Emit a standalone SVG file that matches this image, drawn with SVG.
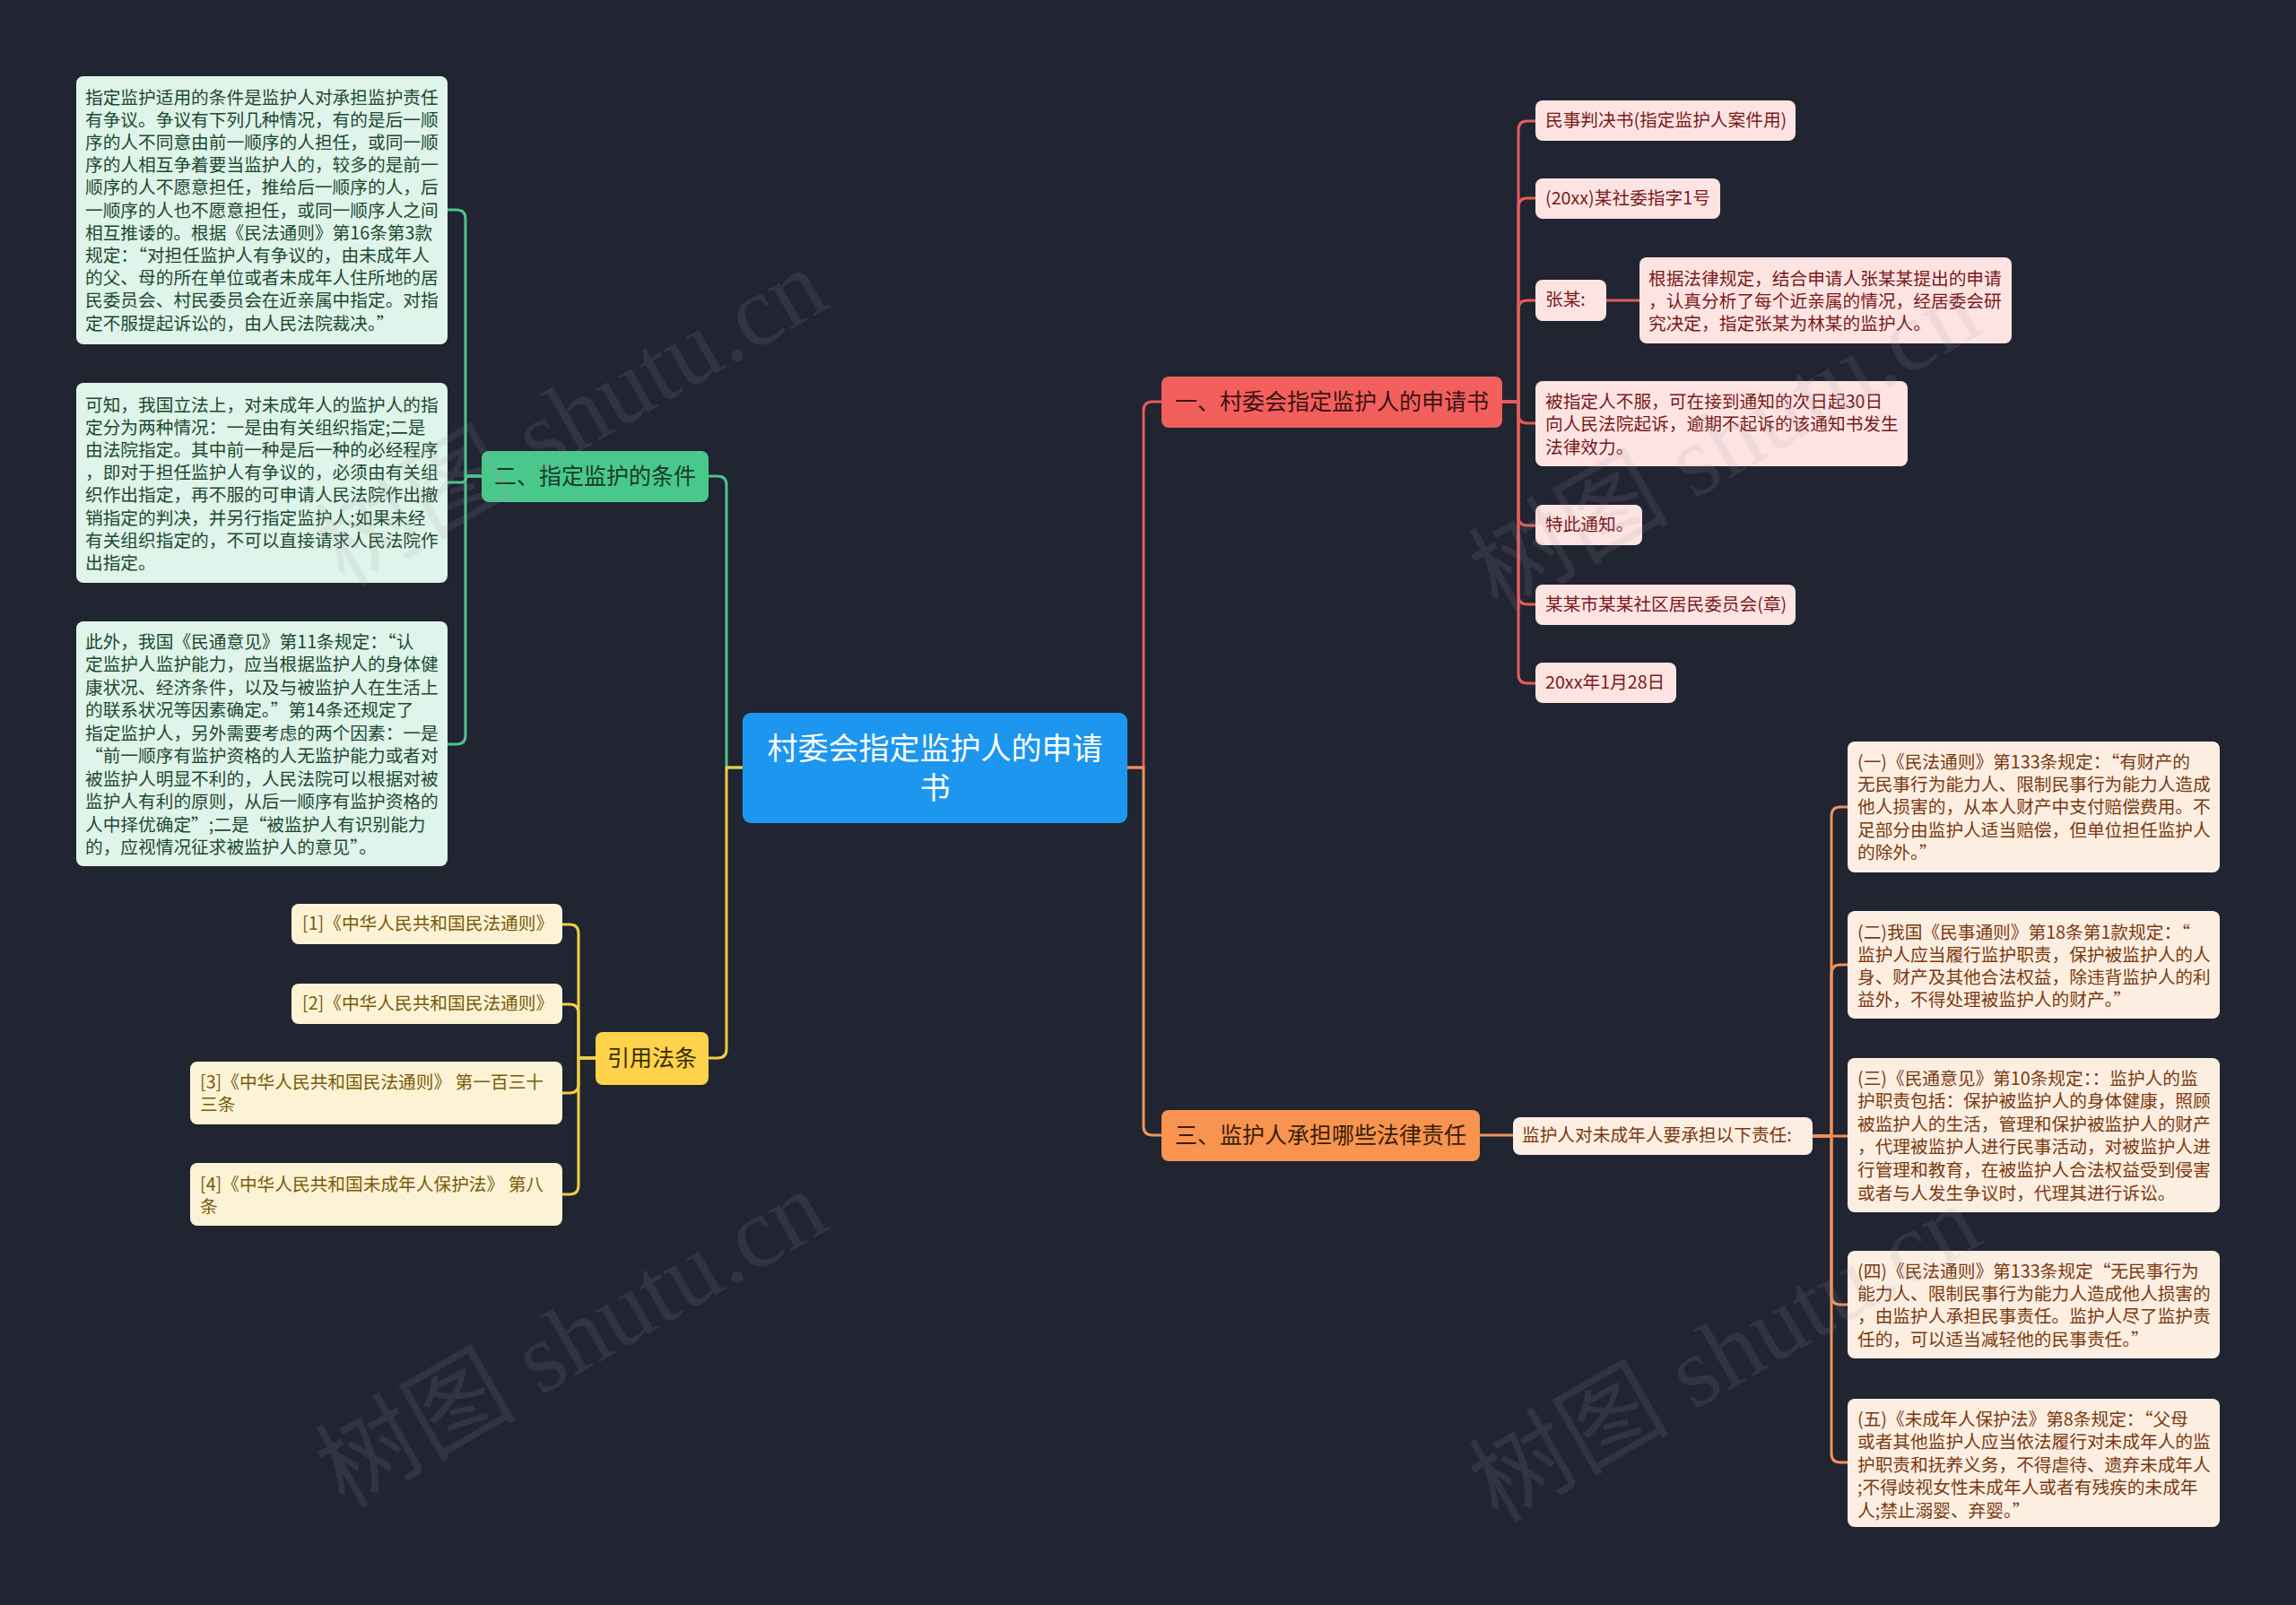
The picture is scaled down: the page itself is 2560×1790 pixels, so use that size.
<svg xmlns="http://www.w3.org/2000/svg" width="2560" height="1790" viewBox="0 0 2560 1790">
<style>
text{font-family:"Noto Sans CJK SC","Noto Sans",sans-serif;}
.c{fill:none;stroke-width:3;stroke-linecap:round;stroke-linejoin:round}
.cr{stroke:#e45d5d}.co{stroke:#f0925a}.cg{stroke:#4cc48c}.cy{stroke:#f3cd45}
.lt{font-size:19.7px;dominant-baseline:central;transform:translateY(-2.5px)}
.bt{font-size:25px;dominant-baseline:central;transform:translateY(-3px)}
.ct{font-size:34px;dominant-baseline:central;fill:#ffffff;transform:translateY(-3px)}
.gl{fill:#dff4ea}.glt{fill:#1c4a31}
.yl{fill:#fcf3d6}.ylt{fill:#7a5a08}
.rl{fill:#fde4e3}.rlt{fill:#7a1a1a}
.ol{fill:#fdeee2}.olt{fill:#7a3a0f}
.wm{font-family:"Liberation Serif","Noto Sans CJK SC",serif;font-size:112px;fill:#9a9aa0;fill-opacity:0.14}
</style>
<rect x="0" y="0" width="2560" height="1790" fill="#212431"/>

<g id="connectors">
<path class="c cr" d="M1257 856 H1275 V458 Q1275 448 1285 448 H1295"/>
<path class="c co" d="M1257 856 H1275 V1256 Q1275 1266 1285 1266 H1295"/>
<path class="c cg" d="M828 856 H810 V541 Q810 531 800 531 H790"/>
<path class="c cy" d="M828 856 H810 V1170 Q810 1180 800 1180 H790"/>
<path class="c cg" d="M537 531 H519 V244 Q519 234 509 234 H499"/>
<path class="c cg" d="M537 531 H522 C519 531 519 538 516 538 H499"/>
<path class="c cg" d="M537 531 H519 V820 Q519 830 509 830 H499"/>
<path class="c cy" d="M664 1180 H645 V1041 Q645 1031 635 1031 H627"/>
<path class="c cy" d="M664 1180 H645 V1130 Q645 1120 635 1120 H627"/>
<path class="c cy" d="M664 1180 H645 V1209 Q645 1219 635 1219 H627"/>
<path class="c cy" d="M664 1180 H645 V1322 Q645 1332 635 1332 H627"/>
<path class="c cr" d="M1675 448 H1693 V145 Q1693 135 1703 135 H1712"/>
<path class="c cr" d="M1675 448 H1693 V231 Q1693 221 1703 221 H1712"/>
<path class="c cr" d="M1675 448 H1693 V345 Q1693 335 1703 335 H1712"/>
<path class="c cr" d="M1675 448 H1693 V462 Q1693 472 1703 472 H1712"/>
<path class="c cr" d="M1675 448 H1693 V576 Q1693 586 1703 586 H1712"/>
<path class="c cr" d="M1675 448 H1693 V664 Q1693 674 1703 674 H1712"/>
<path class="c cr" d="M1675 448 H1693 V752 Q1693 762 1703 762 H1712"/>
<path class="c cr" d="M1791 335 H1828"/>
<path class="c co" d="M1650 1266 H1687"/>
<path class="c co" d="M2021 1267 H2042 V910 Q2042 900 2052 900 H2060"/>
<path class="c co" d="M2021 1267 H2042 V1086 Q2042 1076 2052 1076 H2060"/>
<path class="c co" d="M2021 1267 H2042 H2060"/>
<path class="c co" d="M2021 1267 H2042 V1445 Q2042 1455 2052 1455 H2060"/>
<path class="c co" d="M2021 1267 H2042 V1621 Q2042 1631 2052 1631 H2060"/>
</g>

<g id="root">
<rect x="828" y="795" width="429" height="123" rx="9" fill="#1c96ef"/>
<text class="ct" x="1042.5" y="835" text-anchor="middle">村委会指定监护人的申请</text>
<text class="ct" x="1042.5" y="879" text-anchor="middle">书</text>
</g>

<g id="branch-1">
<rect x="1295" y="420" width="380" height="57" rx="8" fill="#f25f5d"/>
<text class="bt" x="1485" y="448.5" text-anchor="middle" fill="#3a1212">一、村委会指定监护人的申请书</text>
</g>
<g id="branch-2">
<rect x="537" y="503" width="253" height="57" rx="8" fill="#48c98b"/>
<text class="bt" x="663.5" y="531.5" text-anchor="middle" fill="#17392a">二、指定监护的条件</text>
</g>
<g id="branch-3">
<rect x="1295" y="1238" width="355" height="57" rx="8" fill="#f8944f"/>
<text class="bt" x="1472.5" y="1266.5" text-anchor="middle" fill="#3a1d08">三、监护人承担哪些法律责任</text>
</g>
<g id="branch-4">
<rect x="664" y="1151" width="126" height="59" rx="8" fill="#fcd34b"/>
<text class="bt" x="727" y="1180.5" text-anchor="middle" fill="#3a2c00">引用法条</text>
</g>

<g id="g-leaf-1">
<rect class="gl" x="85" y="85" width="414" height="299" rx="8"/>
<text class="lt glt" x="95" y="109">
<tspan x="95" dy="0">指定监护适用的条件是监护人对承担监护责任</tspan>
<tspan x="95" dy="25.2">有争议。争议有下列几种情况，有的是后一顺</tspan>
<tspan x="95" dy="25.2">序的人不同意由前一顺序的人担任，或同一顺</tspan>
<tspan x="95" dy="25.2">序的人相互争着要当监护人的，较多的是前一</tspan>
<tspan x="95" dy="25.2">顺序的人不愿意担任，推给后一顺序的人，后</tspan>
<tspan x="95" dy="25.2">一顺序的人也不愿意担任，或同一顺序人之间</tspan>
<tspan x="95" dy="25.2">相互推诿的。根据《民法通则》第16条第3款</tspan>
<tspan x="95" dy="25.2">规定：“对担任监护人有争议的，由未成年人</tspan>
<tspan x="95" dy="25.2">的父、母的所在单位或者未成年人住所地的居</tspan>
<tspan x="95" dy="25.2">民委员会、村民委员会在近亲属中指定。对指</tspan>
<tspan x="95" dy="25.2">定不服提起诉讼的，由人民法院裁决。”</tspan>
</text>
</g>
<g id="g-leaf-2">
<rect class="gl" x="85" y="427" width="414" height="223" rx="8"/>
<text class="lt glt" x="95" y="452">
<tspan x="95" dy="0">可知，我国立法上，对未成年人的监护人的指</tspan>
<tspan x="95" dy="25.2">定分为两种情况：一是由有关组织指定;二是</tspan>
<tspan x="95" dy="25.2">由法院指定。其中前一种是后一种的必经程序</tspan>
<tspan x="95" dy="25.2">，即对于担任监护人有争议的，必须由有关组</tspan>
<tspan x="95" dy="25.2">织作出指定，再不服的可申请人民法院作出撤</tspan>
<tspan x="95" dy="25.2">销指定的判决，并另行指定监护人;如果未经</tspan>
<tspan x="95" dy="25.2">有关组织指定的，不可以直接请求人民法院作</tspan>
<tspan x="95" dy="25.2">出指定。</tspan>
</text>
</g>
<g id="g-leaf-3">
<rect class="gl" x="85" y="693" width="414" height="273" rx="8"/>
<text class="lt glt" x="95" y="716">
<tspan x="95" dy="0">此外，我国《民通意见》第11条规定：“认</tspan>
<tspan x="95" dy="25.5">定监护人监护能力，应当根据监护人的身体健</tspan>
<tspan x="95" dy="25.5">康状况、经济条件，以及与被监护人在生活上</tspan>
<tspan x="95" dy="25.5">的联系状况等因素确定。”第14条还规定了</tspan>
<tspan x="95" dy="25.5">指定监护人，另外需要考虑的两个因素：一是</tspan>
<tspan x="95" dy="25.5">“前一顺序有监护资格的人无监护能力或者对</tspan>
<tspan x="95" dy="25.5">被监护人明显不利的，人民法院可以根据对被</tspan>
<tspan x="95" dy="25.5">监护人有利的原则，从后一顺序有监护资格的</tspan>
<tspan x="95" dy="25.5">人中择优确定”;二是“被监护人有识别能力</tspan>
<tspan x="95" dy="25.5">的，应视情况征求被监护人的意见”。</tspan>
</text>
</g>

<g id="y-leaf-1">
<rect class="yl" x="325" y="1008" width="302" height="45" rx="8"/>
<text class="lt ylt" x="337" y="1031">[1]《中华人民共和国民法通则》</text>
</g>
<g id="y-leaf-2">
<rect class="yl" x="325" y="1097" width="302" height="45" rx="8"/>
<text class="lt ylt" x="337" y="1120">[2]《中华人民共和国民法通则》</text>
</g>
<g id="y-leaf-3">
<rect class="yl" x="212" y="1184" width="415" height="70" rx="8"/>
<text class="lt ylt" x="223" y="1207"><tspan x="223" dy="0">[3]《中华人民共和国民法通则》 第一百三十</tspan><tspan x="223" dy="25.3">三条</tspan></text>
</g>
<g id="y-leaf-4">
<rect class="yl" x="212" y="1297" width="415" height="70" rx="8"/>
<text class="lt ylt" x="223" y="1321"><tspan x="223" dy="0">[4]《中华人民共和国未成年人保护法》 第八</tspan><tspan x="223" dy="25.3">条</tspan></text>
</g>

<g id="r-leaf-1">
<rect class="rl" x="1712" y="112" width="290" height="45" rx="8"/>
<text class="lt rlt" x="1723" y="135">民事判决书(指定监护人案件用)</text>
</g>
<g id="r-leaf-2">
<rect class="rl" x="1712" y="199" width="206" height="45" rx="8"/>
<text class="lt rlt" x="1723" y="221.5">(20xx)某社委指字1号</text>
</g>
<g id="r-leaf-3">
<rect class="rl" x="1712" y="312" width="79" height="46" rx="8"/>
<text class="lt rlt" x="1723" y="335">张某:</text>
</g>
<g id="r-leaf-3-1">
<rect class="rl" x="1828" y="287" width="415" height="96" rx="8"/>
<text class="lt rlt" x="1838" y="311"><tspan x="1838" dy="0">根据法律规定，结合申请人张某某提出的申请</tspan><tspan x="1838" dy="25.2">，认真分析了每个近亲属的情况，经居委会研</tspan><tspan x="1838" dy="25.2">究决定，指定张某为林某的监护人。</tspan></text>
</g>
<g id="r-leaf-4">
<rect class="rl" x="1712" y="425" width="415" height="95" rx="8"/>
<text class="lt rlt" x="1723" y="448"><tspan x="1723" dy="0">被指定人不服，可在接到通知的次日起30日</tspan><tspan x="1723" dy="25.6">向人民法院起诉，逾期不起诉的该通知书发生</tspan><tspan x="1723" dy="25.6">法律效力。</tspan></text>
</g>
<g id="r-leaf-5">
<rect class="rl" x="1712" y="563" width="119" height="45" rx="8"/>
<text class="lt rlt" x="1723" y="586">特此通知。</text>
</g>
<g id="r-leaf-6">
<rect class="rl" x="1712" y="652" width="290" height="45" rx="8"/>
<text class="lt rlt" x="1723" y="674.5">某某市某某社区居民委员会(章)</text>
</g>
<g id="r-leaf-7">
<rect class="rl" x="1712" y="739" width="157" height="45" rx="8"/>
<text class="lt rlt" x="1723" y="762">20xx年1月28日</text>
</g>

<g id="o-mid">
<rect class="ol" x="1687" y="1246" width="334" height="42" rx="8"/>
<text class="lt olt" x="1697" y="1267">监护人对未成年人要承担以下责任:</text>
</g>
<g id="o-leaf-1">
<rect class="ol" x="2060" y="827" width="415" height="146" rx="8"/>
<text class="lt olt" x="2071" y="850"><tspan x="2071" dy="0">(一)《民法通则》第133条规定：“有财产的</tspan><tspan x="2071" dy="25.4">无民事行为能力人、限制民事行为能力人造成</tspan><tspan x="2071" dy="25.4">他人损害的，从本人财产中支付赔偿费用。不</tspan><tspan x="2071" dy="25.4">足部分由监护人适当赔偿，但单位担任监护人</tspan><tspan x="2071" dy="25.4">的除外。”</tspan></text>
</g>
<g id="o-leaf-2">
<rect class="ol" x="2060" y="1016" width="415" height="120" rx="8"/>
<text class="lt olt" x="2071" y="1040"><tspan x="2071" dy="0">(二)我国《民事通则》第18条第1款规定：“</tspan><tspan x="2071" dy="25.2">监护人应当履行监护职责，保护被监护人的人</tspan><tspan x="2071" dy="25.2">身、财产及其他合法权益，除违背监护人的利</tspan><tspan x="2071" dy="25.2">益外，不得处理被监护人的财产。”</tspan></text>
</g>
<g id="o-leaf-3">
<rect class="ol" x="2060" y="1180" width="415" height="172" rx="8"/>
<text class="lt olt" x="2071" y="1203"><tspan x="2071" dy="0">(三)《民通意见》第10条规定：：监护人的监</tspan><tspan x="2071" dy="25.6">护职责包括：保护被监护人的身体健康，照顾</tspan><tspan x="2071" dy="25.6">被监护人的生活，管理和保护被监护人的财产</tspan><tspan x="2071" dy="25.6">，代理被监护人进行民事活动，对被监护人进</tspan><tspan x="2071" dy="25.6">行管理和教育，在被监护人合法权益受到侵害</tspan><tspan x="2071" dy="25.6">或者与人发生争议时，代理其进行诉讼。</tspan></text>
</g>
<g id="o-leaf-4">
<rect class="ol" x="2060" y="1395" width="415" height="120" rx="8"/>
<text class="lt olt" x="2071" y="1418"><tspan x="2071" dy="0">(四)《民法通则》第133条规定“无民事行为</tspan><tspan x="2071" dy="25.4">能力人、限制民事行为能力人造成他人损害的</tspan><tspan x="2071" dy="25.4">，由监护人承担民事责任。监护人尽了监护责</tspan><tspan x="2071" dy="25.4">任的，可以适当减轻他的民事责任。”</tspan></text>
</g>
<g id="o-leaf-5">
<rect class="ol" x="2060" y="1560" width="415" height="143" rx="8"/>
<text class="lt olt" x="2071" y="1583"><tspan x="2071" dy="0">(五)《未成年人保护法》第8条规定：“父母</tspan><tspan x="2071" dy="25.6">或者其他监护人应当依法履行对未成年人的监</tspan><tspan x="2071" dy="25.6">护职责和抚养义务，不得虐待、遗弃未成年人</tspan><tspan x="2071" dy="25.6">;不得歧视女性未成年人或者有残疾的未成年</tspan><tspan x="2071" dy="25.6">人;禁止溺婴、弃婴。”</tspan></text>
</g>

<g id="watermark">
<text class="wm" x="649" y="500" text-anchor="middle" transform="rotate(-30 649 486)">树图 shutu.cn</text>
<text class="wm" x="1935" y="528" text-anchor="middle" transform="rotate(-30 1935 514)">树图 shutu.cn</text>
<text class="wm" x="649" y="1528" text-anchor="middle" transform="rotate(-30 649 1514)">树图 shutu.cn</text>
<text class="wm" x="1935" y="1544" text-anchor="middle" transform="rotate(-30 1935 1530)">树图 shutu.cn</text>
</g>
</svg>
